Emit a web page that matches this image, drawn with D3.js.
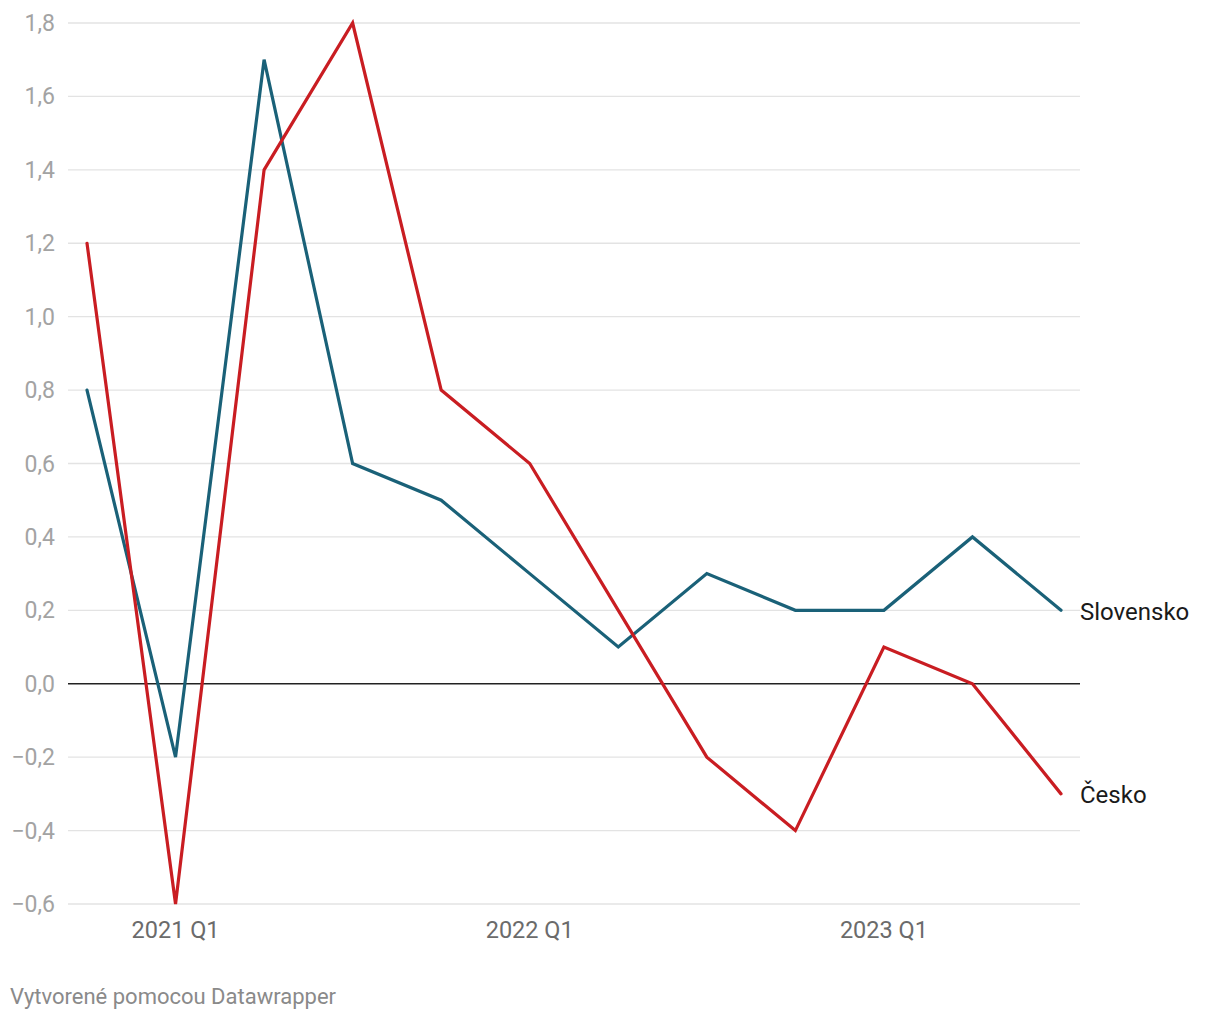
<!DOCTYPE html>
<html>
<head>
<meta charset="utf-8">
<script src="https://cdn.jsdelivr.net/npm/d3@7"></script>
<style>
  body { margin: 0; background: #fff; font-family: Roboto, sans-serif; }
</style>
</head>
<body>
<svg id="chart" width="1220" height="1020"></svg>
<script>
// quarters from 2020 Q4 to 2023 Q3
var quarters = ['2020 Q4', '2021 Q1', '2021 Q2', '2021 Q3', '2021 Q4', '2022 Q1', '2022 Q2', '2022 Q3', '2022 Q4', '2023 Q1', '2023 Q2', '2023 Q3'];
var slovensko = [0.8, -0.2, 1.7, 0.6, 0.5, 0.3, 0.1, 0.3, 0.2, 0.2, 0.4, 0.2];
var cesko = [1.2, -0.6, 1.4, 1.8, 0.8, 0.6, 0.2, -0.2, -0.4, 0.1, 0.0, -0.3];
var yTicks = [-0.6, -0.4, -0.2, 0, 0.2, 0.4, 0.6, 0.8, 1.0, 1.2, 1.4, 1.6, 1.8];
var xTicks = ['2021 Q1', '2022 Q1', '2023 Q1'];

var series = [
    {name: 'Slovensko', values: slovensko, color: '#1a6178'},
    {name: 'Česko', values: cesko, color: '#c91d22'}
];

var svg = d3.select('#chart');

var x = d3.scalePoint().domain(quarters).range([87, 1061]);
var y = d3.scaleLinear().domain([-0.6, 1.8]).range([904, 23]);

var fmt = function (v) {
    return d3.format('.1f')(v).replace('.', ',').replace('-', '\u2212');
};

// grid + y labels
var gGrid = svg.append('g').attr('class', 'grid');
gGrid.selectAll('line').data(yTicks).enter().append('line')
    .attr('x1', 68).attr('x2', 1080)
    .attr('y1', function (d) { return y(d); })
    .attr('y2', function (d) { return y(d); })
    .attr('stroke', function (d) { return d === 0 ? '#222' : '#e3e3e3'; })
    .attr('stroke-width', function (d) { return d === 0 ? 1.5 : 1.3; });

gGrid.selectAll('text').data(yTicks).enter().append('text')
    .attr('x', 55)
    .attr('y', function (d) { return y(d); })
    .attr('dy', '0.35em')
    .attr('text-anchor', 'end')
    .attr('fill', '#a3a3a3')
    .style('font-size', '23px')
    .text(fmt);

// x labels
svg.append('g').selectAll('text').data(xTicks).enter().append('text')
    .attr('x', function (d) { return x(d); })
    .attr('y', 938)
    .attr('text-anchor', 'middle')
    .attr('fill', '#6b6b6b')
    .style('font-size', '23.5px')
    .text(function (d) { return d; });

// lines
var line = d3.line()
    .x(function (d, i) { return x(quarters[i]); })
    .y(function (d) { return y(d); });

var gLines = svg.append('g').attr('class', 'lines');
gLines.selectAll('path').data(series).enter().append('path')
    .attr('d', function (s) { return line(s.values); })
    .attr('fill', 'none')
    .attr('stroke', function (s) { return s.color; })
    .attr('stroke-width', 3.2)
    .attr('stroke-linejoin', 'miter')
    .attr('stroke-linecap', 'round');

// end labels
gLines.selectAll('text').data(series).enter().append('text')
    .attr('x', 1080)
    .attr('y', function (s) { return y(s.values[s.values.length - 1]); })
    .attr('dy', '0.4em')
    .attr('fill', '#1a1a1a')
    .style('font-size', '24px')
    .text(function (s) { return s.name; });

// credit
svg.append('text')
    .attr('x', 10).attr('y', 1004)
    .attr('fill', '#8a8a8a')
    .style('font-size', '22px')
    .text('Vytvorené pomocou Datawrapper');
</script>
</body>
</html>
